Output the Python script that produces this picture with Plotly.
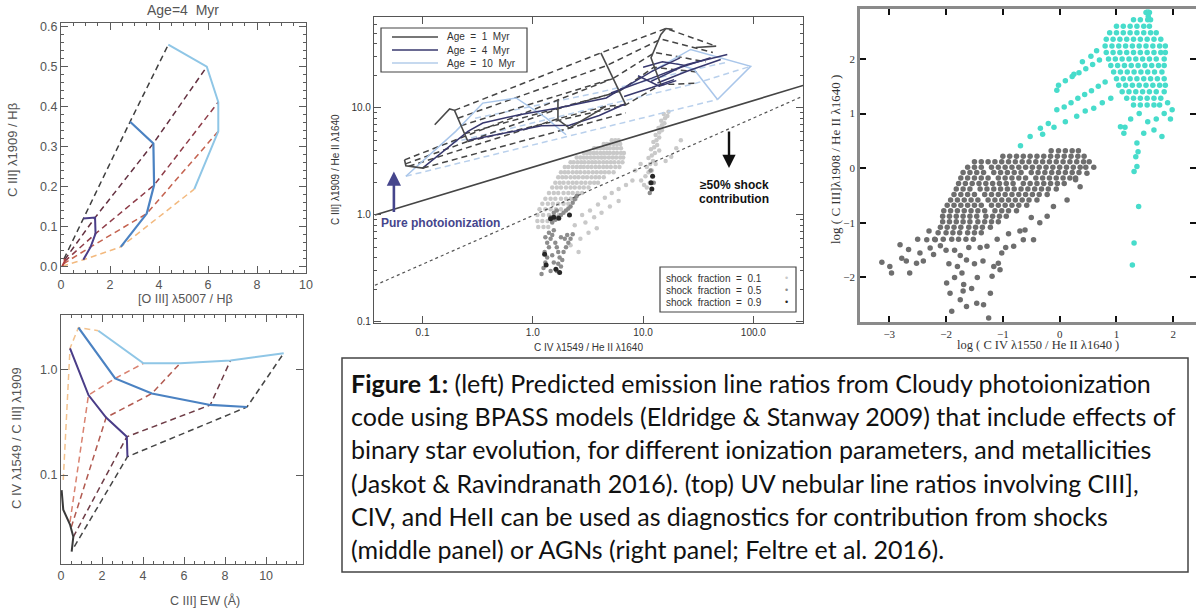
import math
import plotly.graph_objects as go

W, H = 1196, 608


def px(x):
    return x / W


def py(y):
    return 1 - y / H


# ---------------- Top-left panel: Age = 4 Myr, [O III]/Hb vs C III]/Hb ----------------
TL_BLACK = [(0.12, 0.02), (0.15, 0.018), (0.15, 0.014), (0.1, 0.008), (0.05, 0.002)]
TL_PURPLE = [(0.91, 0.121), (1.39, 0.123), (1.41, 0.083), (1.21, 0.050), (0.91, 0.018)]
TL_BLUE = [(2.82, 0.362), (3.77, 0.308), (3.80, 0.204), (3.50, 0.133), (2.44, 0.050)]
TL_LBLUE = [(4.38, 0.554), (5.95, 0.499), (6.42, 0.411), (6.42, 0.338), (5.44, 0.194)]
TL_DASH_COLORS = ["#3e3e3e", "#633040", "#8e3c48", "#c4624f", "#f3b97e"]

# ---------------- Bottom-left panel: C III] EW vs C IV/C III] ----------------
BL_BLACK = [(0.03, 0.072), (0.11, 0.047), (0.44, 0.034), (0.6, 0.026), (0.52, 0.0188)]
BL_START = [(0.11, 0.09), (0.44, 0.036), (0.5, 0.032), (0.6, 0.026), (0.65, 0.021)]
BL_PURPLE = [(0.44, 1.58), (1.34, 0.57), (2.2, 0.35), (3.21, 0.23), (3.24, 0.149)]
BL_BLUE = [(0.85, 2.48), (2.64, 0.82), (4.43, 0.59), (7.28, 0.46), (9.07, 0.44)]
BL_LBLUE = [(1.82, 2.32), (4.02, 1.14), (5.81, 1.14), (8.26, 1.21), (10.86, 1.42)]
BL_DASH_COLORS = ["#f3c28e", "#d98270", "#b25a50", "#6e3c46", "#454545"]

# ---------------- Middle panel: C IV/He II vs C III]/He II ----------------
DIVIDE_X = [0.037, 282.0]
DIVIDE_Y = [1.0, 16.2]
DOTTED_X = [0.037, 282.0]
DOTTED_Y = [0.22, 12.9]

# Age = 1 Myr (dark) tracks and grid lines
A1_TRACKS = [
    [(0.129, 6.97), (0.176, 9.8), (0.195, 9.5), (0.258, 4.86)],
    [(4.14, 32.7), (6.97, 10.7)],
    [(18.5, 54.2), (16.1, 55.3), (14.5, 48.7), (11.8, 29.5), (14.5, 16.5)],
    [(30.0, 36.7), (46.0, 37.8)],
    [(0.0687, 3.27), (0.0706, 2.88), (0.1006, 2.74), (0.108, 2.84)],
    [(1.69, 11.97), (1.69, 7.77), (2.15, 6.49), (4.59, 10.35)],
]
A1_DASHED = [
    [(0.195, 9.5), (4.14, 32.7), (16.1, 55.3), (46.0, 37.8)],
    [(0.209, 8.02), (4.69, 24.9), (14.5, 44.0), (42.9, 33.0)],
    [(0.222, 6.82), (5.31, 18.8), (12.8, 33.0), (37.0, 27.0)],
    [(0.239, 5.74), (6.02, 14.2), (12.5, 24.0), (33.3, 21.5)],
    [(0.258, 4.86), (6.97, 10.7), (14.5, 16.5), (30.0, 17.0)],
    [(0.0687, 3.27), (1.69, 11.97), (5.31, 18.8)],
    [(0.07, 3.0), (1.69, 9.8), (6.02, 14.2)],
    [(0.075, 2.85), (1.75, 8.0), (4.59, 10.35), (6.97, 10.7)],
    [(0.1006, 2.74), (2.15, 6.49), (6.97, 9.0)],
]
# Age = 4 Myr (navy)
A4_TRACKS = [
    [(0.1, 2.74), (0.258, 6.04), (0.352, 7.22), (0.757, 8.65), (1.69, 10.0), (4.63, 12.4), (6.55, 15.4)],
    [(0.26, 5.0), (0.6, 5.9), (1.2, 6.8), (2.15, 6.9), (4.0, 8.5), (7.0, 11.0)],
    [(5.1, 13.8), (12.0, 19.0), (25.0, 25.5), (58.0, 31.6)],
    [(6.3, 14.8), (12.0, 22.0), (21.6, 29.4)],
    [(11.8, 17.7), (22.0, 24.0), (41.0, 29.4)],
    [(13.5, 17.1), (25.0, 22.0), (50.6, 28.4)],
    [(6.73, 12.8), (12.0, 15.5), (19.1, 18.4)],
    [(9.0, 20.0), (14.0, 16.0), (20.0, 18.0)],
    [(10.0, 24.0), (15.0, 27.0), (24.0, 25.0)],
]
# Age = 10 Myr (light blue)
A10_TRACKS = [
    [(0.0706, 2.3), (0.2, 6.04), (0.352, 11.1), (0.706, 12.4), (1.32, 8.06), (2.0, 5.62)],
    [(12.0, 22.0), (27.0, 35.2), (94.6, 24.5), (47.3, 12.0)],
    [(20.0, 26.0), (29.0, 22.9), (47.3, 12.0)],
]
A10_DASHED = [
    [(0.0706, 2.3), (2.0, 5.4), (47.3, 12.0)],
    [(0.15, 4.5), (3.0, 9.5), (30.0, 17.0), (94.6, 24.5)],
    [(0.3, 8.0), (4.0, 14.0), (20.0, 21.0), (60.0, 27.0)],
]

# shock models, fraction 0.1 (light), rows of (y, [x ...])
SHOCK01_ROWS = [
    (5.0, [5.2, 5.6, 6.0]),
    (4.6, [4.4, 4.7, 5.0, 5.4, 5.8, 6.2]),
    (4.2, [3.6, 3.85, 4.1, 4.4, 4.7, 5.0, 5.4, 5.8, 6.3]),
    (3.8, [2.9, 3.1, 3.3, 3.55, 3.8, 4.1, 4.4, 4.7, 5.0, 5.4, 5.8, 6.3, 6.7]),
    (3.45, [2.5, 2.7, 2.9, 3.1, 3.35, 3.6, 3.9, 4.2, 4.5, 4.9, 5.3, 5.7, 6.2, 6.6]),
    (3.1, [2.2, 2.35, 2.55, 2.75, 2.95, 3.2, 3.45, 3.7, 4.0, 4.35, 4.7, 5.1, 5.5, 6.0, 6.5]),
    (2.8, [1.95, 2.1, 2.3, 2.5, 2.7, 2.9, 3.15, 3.4, 3.7, 4.0, 4.35, 4.7, 5.1, 5.6, 6.1]),
    (2.5, [1.8, 1.95, 2.1, 2.3, 2.5, 2.7, 2.95, 3.2, 3.5, 3.8, 4.15, 4.5, 4.9, 5.4]),
    (2.25, [1.7, 1.85, 2.0, 2.2, 2.4, 2.6, 2.85, 3.1, 3.4, 3.7, 4.0, 4.4]),
    (2.0, [1.6, 1.75, 1.9, 2.1, 2.3, 2.5, 2.75, 3.0, 3.3, 3.6, 3.9]),
    (1.8, [1.5, 1.65, 1.8, 2.0, 2.2, 2.4, 2.65, 2.9, 3.2]),
    (1.6, [1.4, 1.55, 1.7, 1.9, 2.1, 2.3, 2.55, 2.8]),
    (1.42, [1.3, 1.45, 1.6, 1.8, 2.0, 2.2, 2.45]),
    (1.27, [1.22, 1.37, 1.52, 1.7, 1.9, 2.1]),
    (1.13, [1.15, 1.3, 1.45, 1.62, 1.8]),
    (1.0, [1.1, 1.24, 1.4, 1.55, 1.72]),
    (0.88, [1.1, 1.22, 1.36, 1.5]),
    (0.77, [1.12, 1.25, 1.38]),
]
SHOCK01_EXTRA = [
    (10.2, 1.9), (10.8, 1.8), (11.5, 2.0), (10.5, 2.3), (11.2, 2.5), (12.0, 2.6), (10.8, 2.8),
    (11.6, 3.0), (12.3, 3.2), (11.2, 3.4), (12.0, 3.6), (12.8, 3.8), (11.8, 4.1), (12.6, 4.3),
    (13.4, 4.5), (12.4, 4.8), (13.2, 5.0), (14.0, 5.3), (13.0, 5.6), (14.0, 5.9), (14.8, 6.2),
    (13.8, 6.5), (14.8, 6.9), (15.6, 7.2), (14.6, 7.6), (15.8, 8.0), (16.6, 8.4), (15.4, 8.8),
    (17.0, 9.2), (9.6, 2.1), (13.0, 3.0), (14.0, 4.0),
    (2.8, 1.0), (3.3, 1.1), (3.9, 1.25), (4.5, 1.45), (5.2, 1.6), (6.0, 1.75), (7.0, 1.9),
    (8.0, 2.1), (2.4, 0.8), (3.0, 0.85), (3.6, 0.95), (4.2, 1.05), (5.0, 1.2), (6.0, 1.35),
    (2.7, 0.6), (3.2, 0.68), (3.8, 0.75), (2.2, 0.52), (2.6, 0.45), (8.5, 2.6), (9.5, 3.0),
    (18.0, 3.5), (20.0, 4.2), (22.0, 5.0), (16.0, 3.2),
]
SHOCK05 = [
    (1.25, 0.32), (1.3, 0.36), (1.35, 0.4), (1.28, 0.45), (1.4, 0.5), (1.35, 0.55), (1.45, 0.6),
    (1.5, 0.65), (1.4, 0.68), (1.55, 0.72), (1.3, 0.62), (1.6, 0.55), (1.65, 0.5), (1.7, 0.45),
    (1.75, 0.4), (1.7, 0.35), (1.65, 0.3), (1.8, 0.33), (1.85, 0.38), (1.9, 0.45), (2.0, 0.5),
    (2.1, 0.55), (2.2, 0.6), (2.05, 0.65), (1.95, 0.6), (1.8, 0.62), (2.3, 0.66), (1.5, 0.42),
    (1.55, 0.36), (1.45, 0.3), (1.2, 0.28), (1.5, 0.85), (1.6, 0.9), (1.7, 0.95), (1.8, 1.0),
    (1.9, 1.05), (2.0, 1.1), (2.1, 1.15), (2.2, 1.2), (2.3, 1.3), (2.4, 1.4), (1.45, 0.95),
    (1.55, 1.05), (1.65, 1.1), (2.5, 1.5), (11.5, 1.6), (12.5, 2.0), (11.7, 2.6),
]
SHOCK09 = [
    (1.28, 0.43), (1.32, 0.34), (1.75, 0.29), (1.62, 0.31), (1.55, 0.95), (1.72, 0.93),
    (2.15, 1.0), (1.45, 0.92), (12.0, 1.75), (12.2, 2.3), (11.8, 2.0),
]

# ---------------- Right panel: log CIV/HeII vs log CIII]/HeII ----------------
SF_ROWS = [
    (0.32, [-0.15, -0.02, 0.1, 0.22, 0.33]),
    (0.22, [-1.0, -0.88, -0.76, -0.64, -0.52, -0.4, -0.28, -0.16, -0.04, 0.08, 0.2, 0.32, 0.43]),
    (0.12, [-1.5, -1.38, -1.26, -1.14, -1.02, -0.9, -0.78, -0.66, -0.54, -0.42, -0.3, -0.18, -0.06, 0.06, 0.18, 0.3, 0.42, 0.52]),
    (0.02, [-1.62, -1.5, -1.38, -1.2, -1.08, -0.96, -0.84, -0.72, -0.6, -0.48, -0.36, -0.24, -0.12, 0.0, 0.12, 0.24, 0.36, 0.46, 0.6]),
    (-0.08, [-1.7, -1.58, -1.46, -1.34, -1.16, -1.04, -0.92, -0.8, -0.68, -0.5, -0.38, -0.26, -0.14, -0.02, 0.1, 0.22, 0.34]),
    (-0.18, [-1.74, -1.62, -1.5, -1.38, -1.26, -1.08, -0.96, -0.84, -0.72, -0.6, -0.42, -0.3, -0.18, -0.06, 0.06, 0.18, 0.28]),
    (-0.28, [-1.78, -1.66, -1.54, -1.42, -1.3, -1.18, -1.06, -0.94, -0.82, -0.64, -0.52, -0.4, -0.28, -0.16, -0.04, 0.08]),
    (-0.38, [-1.82, -1.7, -1.58, -1.4, -1.28, -1.16, -1.04, -0.92, -0.8, -0.68, -0.56, -0.44, -0.32, -0.2, -0.06]),
    (-0.48, [-1.86, -1.74, -1.62, -1.5, -1.32, -1.2, -1.08, -0.96, -0.84, -0.72, -0.6, -0.48, -0.36, -0.22]),
    (-0.58, [-1.92, -1.8, -1.68, -1.56, -1.44, -1.26, -1.14, -1.02, -0.9, -0.78, -0.66, -0.54, -0.4]),
    (-0.68, [-1.98, -1.86, -1.74, -1.62, -1.5, -1.38, -1.2, -1.08, -0.96, -0.84, -0.72, -0.58]),
    (-0.78, [-2.04, -1.92, -1.8, -1.68, -1.56, -1.44, -1.32, -1.14, -1.02, -0.9, -0.76]),
    (-0.88, [-2.06, -1.94, -1.82, -1.7, -1.58, -1.46, -1.3, -1.18, -1.06, -0.94]),
    (-0.98, [-2.06, -1.94, -1.82, -1.7, -1.58, -1.44, -1.32, -1.2, -1.08]),
    (-1.08, [-2.1, -1.98, -1.86, -1.74, -1.6, -1.48, -1.36, -1.22]),
    (-1.18, [-2.14, -2.0, -1.88, -1.76, -1.62, -1.5, -1.38]),
    (-1.3, [-2.2, -2.05, -1.9, -1.78, -1.65, -1.52]),
]
SF_EXTRA = [
    (-3.13, -1.72), (-2.99, -1.8), (-2.96, -1.92), (-2.81, -1.4), (-2.78, -1.65), (-2.66, -1.49),
    (-2.64, -1.92), (-2.52, -1.74), (-2.46, -1.55), (-2.34, -1.31), (-2.4, -1.7), (-2.28, -1.46),
    (-2.19, -1.31), (-2.22, -1.58), (-2.1, -1.42), (-1.99, -2.1), (-1.93, -2.29), (-1.9, -2.62),
    (-1.75, -2.41), (-1.69, -2.13), (-1.64, -2.53), (-1.46, -2.47), (-1.34, -2.5), (-1.25, -2.74),
    (-1.22, -2.29), (-1.19, -1.98), (-1.16, -1.8), (-1.64, -1.68), (-1.72, -1.92), (-1.28, -1.43),
    (-1.08, -1.74), (-1.05, -1.86), (-1.02, -1.55), (-0.81, -1.43), (-0.64, -1.31), (-0.61, -1.13),
    (-0.46, -1.31), (-0.22, -0.88), (-0.11, -0.7), (0.13, -0.58), (0.36, -0.34), (0.48, -0.09),
    (0.28, -0.21), (-0.35, -1.0), (-0.5, -0.9), (-0.9, -1.2), (-1.85, -1.5), (-1.95, -1.75),
    (-1.8, -1.8), (-1.85, -2.0), (-1.7, -2.25), (-1.55, -2.2), (-1.45, -2.0), (-1.5, -1.75),
    (-1.35, -1.7), (-1.4, -1.45), (-1.6, -1.45), (-1.75, -1.6), (-1.1, -1.3), (-0.95, -1.45),
    (-0.7, -1.15), (-2.0, -1.5), (-2.3, -1.15), (-2.5, -1.3), (-2.7, -1.7),
]
AGN_ROWS = [
    (2.85, [1.52, 1.58]),
    (2.72, [1.3, 1.42, 1.55, 1.6]),
    (2.6, [1.0, 1.12, 1.24, 1.36, 1.48, 1.58]),
    (2.48, [0.88, 1.0, 1.12, 1.24, 1.36, 1.48, 1.6, 1.7]),
    (2.36, [0.82, 0.94, 1.06, 1.18, 1.3, 1.42, 1.54, 1.66, 1.78]),
    (2.24, [0.8, 0.92, 1.04, 1.16, 1.28, 1.4, 1.52, 1.64, 1.76, 1.86]),
    (2.12, [0.82, 0.94, 1.06, 1.18, 1.3, 1.42, 1.54, 1.66, 1.78, 1.86]),
    (2.0, [0.86, 0.98, 1.1, 1.22, 1.34, 1.46, 1.58, 1.7, 1.84]),
    (1.88, [0.9, 1.02, 1.14, 1.26, 1.38, 1.5, 1.62, 1.74, 1.84]),
    (1.76, [0.95, 1.07, 1.19, 1.31, 1.43, 1.55, 1.67, 1.8]),
    (1.64, [1.0, 1.12, 1.24, 1.36, 1.48, 1.6, 1.72, 1.84]),
    (1.52, [1.04, 1.16, 1.28, 1.4, 1.52, 1.64, 1.76, 1.86]),
    (1.4, [1.1, 1.22, 1.34, 1.46, 1.58, 1.7, 1.84]),
    (1.28, [1.18, 1.3, 1.42, 1.54, 1.66, 1.78]),
    (1.16, [1.3, 1.42, 1.54, 1.66, 1.76]),
]
AGN_EXTRA = [
    (-0.05, 1.43), (-0.02, 1.52), (0.1, 1.6), (0.22, 1.68), (0.34, 1.75), (0.46, 1.82), (0.58, 1.9),
    (0.7, 1.98), (0.25, 1.72), (0.4, 1.95), (0.55, 2.05), (0.65, 2.15),
    (-0.34, 0.73), (-0.2, 0.82), (-0.05, 1.07), (0.08, 1.12), (0.2, 1.2), (0.32, 1.28), (0.44, 1.35),
    (0.56, 1.42), (0.68, 1.5), (0.8, 1.58),
    (-0.69, 0.41), (-0.52, 0.58), (-0.3, 0.62), (-0.1, 0.75), (0.1, 0.85), (0.3, 0.95), (0.45, 1.05),
    (0.6, 1.1), (0.75, 1.2), (0.9, 1.28),
    (1.84, 1.0), (1.98, 1.07), (1.95, 0.9), (1.8, 0.58), (1.66, 0.7), (1.48, 0.64), (1.36, 0.46),
    (1.55, 0.85), (1.7, 0.9), (1.25, 0.9), (1.15, 0.75), (1.07, 0.76), (1.13, 0.64), (1.4, 1.0),
    (1.9, 1.2), (1.34, 0.21), (1.31, -0.06), (1.36, 0.03), (1.39, -0.7), (1.31, -1.37),
    (1.28, -1.77), (1.38, 0.3), (1.55, 2.95), (1.56, 2.78),
]

CAPTION_LINES = [
    "<b>Figure 1:</b> (left) Predicted emission line ratios from Cloudy photoionization",
    "code using BPASS models (Eldridge & Stanway 2009) that include effects of",
    "binary star evolution, for different ionization parameters, and metallicities",
    "(Jaskot & Ravindranath 2016). (top) UV nebular line ratios involving CIII],",
    "CIV, and HeII can be used as diagnostics for contribution from shocks",
    "(middle panel) or AGNs (right panel; Feltre et al. 2016).",
]

MID_Y_MINOR = [0.2, 0.3, 0.4, 0.5, 0.6, 0.7, 0.8, 0.9, 2, 3, 4, 5, 6, 7, 8, 9, 20, 30, 40, 50, 60, 70]

fig = go.Figure()


def add_line(pts, xa, ya, color, width, dash="solid"):
    fig.add_trace(go.Scatter(
        x=[p[0] for p in pts], y=[p[1] for p in pts], mode="lines",
        line=dict(color=color, width=width, dash=dash),
        xaxis=xa, yaxis=ya, showlegend=False, hoverinfo="skip"))


def add_points(xs, ys, xa, ya, color, size):
    fig.add_trace(go.Scatter(
        x=xs, y=ys, mode="markers", marker=dict(color=color, size=size, line=dict(width=0)),
        xaxis=xa, yaxis=ya, showlegend=False, hoverinfo="skip"))


def rows_xy(rows):
    xs, ys = [], []
    for yv, xl in rows:
        for xv in xl:
            xs.append(xv)
            ys.append(yv)
    return xs, ys


DASH = "6px,4px"

# --- top-left
for i in range(5):
    add_line([TL_BLACK[i], TL_PURPLE[i], TL_BLUE[i], TL_LBLUE[i]], "x", "y", TL_DASH_COLORS[i], 1.5, DASH)
add_line(TL_BLACK, "x", "y", "#b04040", 2)
add_line(TL_PURPLE, "x", "y", "#4a3d88", 2)
add_line(TL_BLUE, "x", "y", "#4b82c2", 2.2)
add_line(TL_LBLUE, "x", "y", "#8fc6e6", 2)

# --- bottom-left
for i in range(5):
    add_line([BL_START[i], BL_PURPLE[i], BL_BLUE[i], BL_LBLUE[i]], "x2", "y2", BL_DASH_COLORS[i], 1.5, DASH)
add_line(BL_BLACK, "x2", "y2", "#3a3a3a", 2)
add_line(BL_PURPLE, "x2", "y2", "#4a3d88", 2)
add_line(BL_BLUE, "x2", "y2", "#4b82c2", 2.2)
add_line(BL_LBLUE, "x2", "y2", "#8fc6e6", 2)

# --- middle
sx, sy = rows_xy(SHOCK01_ROWS)
add_points(sx + [p[0] for p in SHOCK01_EXTRA], sy + [p[1] for p in SHOCK01_EXTRA], "x3", "y3", "#c9c9c9", 4.5)
add_points([p[0] for p in SHOCK05], [p[1] for p in SHOCK05], "x3", "y3", "#8d8d8d", 4.5)
add_points([p[0] for p in SHOCK09], [p[1] for p in SHOCK09], "x3", "y3", "#262626", 5)
for ln in A10_DASHED:
    add_line(ln, "x3", "y3", "#b9d0ec", 1.5, DASH)
for ln in A1_DASHED:
    add_line(ln, "x3", "y3", "#454545", 1.5, DASH)
for ln in A10_TRACKS:
    add_line(ln, "x3", "y3", "#a9c6ea", 1.5)
for ln in A4_TRACKS:
    add_line(ln, "x3", "y3", "#38386e", 1.5)
for ln in A1_TRACKS:
    add_line(ln, "x3", "y3", "#4a4a4a", 1.6)
fig.add_trace(go.Scatter(x=DIVIDE_X, y=DIVIDE_Y, mode="lines", line=dict(color="#454545", width=1.6),
                         xaxis="x3", yaxis="y3", showlegend=False, hoverinfo="skip"))
fig.add_trace(go.Scatter(x=DOTTED_X, y=DOTTED_Y, mode="lines", line=dict(color="#555", width=1.2, dash="dot"),
                         xaxis="x3", yaxis="y3", showlegend=False, hoverinfo="skip"))

# --- right
gx, gy = rows_xy(SF_ROWS)
add_points(gx + [p[0] for p in SF_EXTRA], gy + [p[1] for p in SF_EXTRA], "x4", "y4", "#6e6e6e", 5.5)
cx, cy = rows_xy(AGN_ROWS)
add_points(cx + [p[0] for p in AGN_EXTRA], cy + [p[1] for p in AGN_EXTRA], "x4", "y4", "#47dccb", 5.5)

# ---------------- axes ----------------
LEFT_COL = "#5c5c5c"
left_font = dict(family="Liberation Sans, Arial", size=12.5, color="#555")
minor_lin = dict(ticks="inside", ticklen=3, tickcolor=LEFT_COL, showgrid=False)


def left_axis(**kw):
    d = dict(showline=True, linecolor=LEFT_COL, linewidth=1.3, mirror="ticks", ticks="inside",
             ticklen=7, tickcolor=LEFT_COL, tickwidth=1.1, showgrid=False, zeroline=False,
             tickfont=left_font, automargin=False)
    d.update(kw)
    return d


mid_font = dict(family="Liberation Sans, Arial", size=10, color="#333")


def mid_axis(**kw):
    d = dict(type="log", showline=True, linecolor="#555", linewidth=1.2, mirror="ticks", ticks="inside",
             ticklen=7, tickcolor="#555", showgrid=False, zeroline=False, tickfont=mid_font,
             automargin=False)
    d.update(kw)
    return d


r_font = dict(family="Liberation Serif, Times New Roman", size=11, color="#333")

fig.update_layout(
    width=W, height=H, margin=dict(l=0, r=0, t=0, b=0, pad=0, autoexpand=False),
    paper_bgcolor="white", plot_bgcolor="white", showlegend=False,
    xaxis=left_axis(domain=[px(61), px(306)], range=[0, 10], tickvals=[0, 2, 4, 6, 8, 10],
                    minor=dict(minor_lin, dtick=0.5), anchor="y"),
    yaxis=left_axis(domain=[py(273), py(23)], range=[-0.015, 0.608], dtick=0.1, tickformat=".1f",
                    minor=dict(minor_lin, dtick=0.02), anchor="x"),
    xaxis2=left_axis(domain=[px(61), px(303)], range=[0, 11.8], tickvals=[0, 2, 4, 6, 8, 10],
                     minor=dict(minor_lin, dtick=0.5), anchor="y2"),
    yaxis2=left_axis(domain=[py(564), py(315)], type="log", range=[-1.842, 0.514],
                     tickvals=[0.1, 1.0], ticktext=["0.1", "1.0"], anchor="x2"),
    xaxis3=mid_axis(domain=[px(374), px(803)], range=[-1.44, 2.45], tickvals=[0.1, 1, 10, 100],
                    ticktext=["0.1", "1.0", "10.0", "100.0"], anchor="y3"),
    yaxis3=mid_axis(domain=[py(323), py(17)], range=[-1.01, 1.85], tickvals=[0.1, 1, 10],
                    ticktext=["0.1", "1.0", "10.0"], anchor="x3",
                    minor=dict(tickmode="array", tickvals=MID_Y_MINOR, ticks="inside", ticklen=3,
                               tickcolor="#555", showgrid=False)),
    xaxis4=dict(domain=[px(860), 1.0], range=[-3.515, 2.40], tickvals=[-3, -2, -1, 0, 1, 2],
                showline=True, linecolor="#8a8a8a", linewidth=2.5, mirror="ticks", ticks="inside",
                ticklen=6, tickcolor="#111", tickwidth=1.5, showgrid=False, zeroline=False,
                tickfont=r_font, anchor="y4", automargin=False),
    yaxis4=dict(domain=[py(321.7), py(9.3)], range=[-2.81, 2.91], tickvals=[-2, -1, 0, 1, 2],
                showline=True, linecolor="#8a8a8a", linewidth=2.5, mirror="ticks", ticks="inside",
                ticklen=6, tickcolor="#111", tickwidth=1.5, showgrid=False, zeroline=False,
                tickfont=r_font, anchor="x4", automargin=False),
)

ann = []


def add_text(x, y, text, size, color="#555", family="Liberation Sans, Arial", angle=0, xanchor="center",
             bold=False):
    ann.append(dict(x=px(x), y=py(y), xref="paper", yref="paper", text=("<b>%s</b>" % text) if bold else text,
                    showarrow=False, textangle=angle, xanchor=xanchor, yanchor="middle",
                    font=dict(family=family, size=size, color=color)))


# left panel titles
add_text(183, 10, "Age=4  Myr", 14)
add_text(12, 150, "C III] λ1909 / Hβ", 13, angle=-90)
add_text(185, 299, "[O III] λ5007 / Hβ", 12.5)
add_text(16, 438, "C IV λ1549 / C III] λ1909", 13, angle=-90)
add_text(205, 600, "C III] EW (Å)", 12.5)
# middle panel titles
add_text(336, 170, "C III] λ1909 / He II λ1640", 10, color="#333", angle=-90)
add_text(588, 348, "C IV λ1549 / He II λ1640", 10, color="#333")
# right panel titles
add_text(836, 160, "log ( C III]λ1908 / He II λ1640 )", 13, color="#333",
         family="Liberation Serif, Times New Roman", angle=-90)
add_text(1038, 345, "log ( C IV λ1550 / He II λ1640 )", 12.5, color="#333",
         family="Liberation Serif, Times New Roman")

# middle-panel annotations
add_text(379, 223, "Pure photoionization", 12, color="#45458c", xanchor="left", bold=True)
add_text(734, 185, "≥50% shock", 12, color="#111", bold=True)
add_text(734, 199, "contribution", 12, color="#111", bold=True)
ann.append(dict(x=math.log10(0.055), y=math.log10(2.55), ax=0, ay=42,
                xref="x3", yref="y3", axref="pixel", ayref="pixel", showarrow=True, arrowhead=2,
                arrowsize=1.1, arrowwidth=2.6, arrowcolor="#45458c", text=""))
ann.append(dict(x=px(729), y=py(168), ax=0, ay=-38, xref="paper", yref="paper",
                showarrow=True, arrowhead=2, arrowsize=1.1,
                arrowwidth=2.4, arrowcolor="#111", text=""))

# legend texts (middle)
for i, lab in enumerate(["Age  =  1  Myr", "Age  =  4  Myr", "Age  =  10  Myr"]):
    add_text(445, 37 + 13 * i, lab, 10, color="#333", xanchor="left")
for i, lab in enumerate(["shock  fraction  =  0.1", "shock  fraction  =  0.5", "shock  fraction  =  0.9"]):
    add_text(664, 278 + 12 * i, lab, 10, color="#333", xanchor="left")
for i, c in enumerate(["#c9c9c9", "#8d8d8d", "#262626"]):
    add_text(787, 278 + 12 * i, "•", 9, color=c)

# caption
for i, line in enumerate(CAPTION_LINES):
    ann.append(dict(x=px(349), y=py(383 + 33.2 * i), xref="paper", yref="paper", text=line,
                    showarrow=False, xanchor="left", yanchor="middle",
                    font=dict(family="Lato, Open Sans", size=25, color="#111")))

shapes = [
    dict(type="rect", xref="paper", yref="paper", x0=px(342), x1=px(1188), y0=py(572), y1=py(358),
         line=dict(color="#444", width=1.5)),
    dict(type="rect", xref="paper", yref="paper", x0=px(381), x1=px(527), y0=py(72), y1=py(28),
         line=dict(color="#444", width=1.2), fillcolor="white"),
    dict(type="rect", xref="paper", yref="paper", x0=px(660), x1=px(796), y0=py(312), y1=py(267),
         line=dict(color="#444", width=1.2), fillcolor="white"),
]
for i, c in enumerate(["#4a4a4a", "#38386e", "#b3cdea"]):
    shapes.append(dict(type="line", xref="paper", yref="paper", x0=px(392), x1=px(438),
                       y0=py(37 + 13 * i), y1=py(37 + 13 * i), line=dict(color=c, width=1.5)))

fig.update_layout(annotations=ann, shapes=shapes)
fig.write_html("out.html", config={"displayModeBar": False},
               post_script="document.body.style.margin='0';document.body.style.overflow='hidden';")
